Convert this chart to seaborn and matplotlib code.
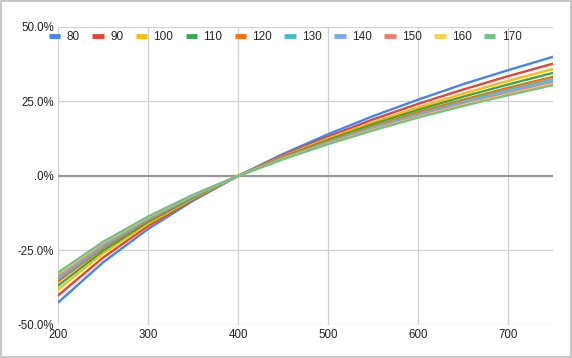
import matplotlib
matplotlib.use("Agg")
import matplotlib.pyplot as plt
from matplotlib.patches import Rectangle
from matplotlib.ticker import FuncFormatter
import numpy as np
import pandas as pd
import seaborn as sns

# x positions and one series per parameter value (percent change vs x=400)
x_vals = [200, 250, 300, 350, 400, 450, 500, 550, 600, 650, 700, 750]
series_names = ['80', '90', '100', '110', '120', '130', '140', '150', '160', '170']
s80 = [-42.5, -29.0, -17.8, -8.3, 0, 7.4, 14.0, 20.1, 25.6, 30.8, 35.5, 40.0]
s90 = [-40.1, -27.4, -16.8, -7.8, 0, 7.0, 13.2, 19.0, 24.2, 29.0, 33.5, 37.7]
s100 = [-38.1, -26.0, -16.0, -7.5, 0, 6.6, 12.6, 18.0, 23.0, 27.6, 31.9, 35.9]
s110 = [-36.8, -25.1, -15.4, -7.2, 0, 6.4, 12.1, 17.4, 22.2, 26.6, 30.7, 34.6]
s120 = [-35.4, -24.2, -14.9, -6.9, 0, 6.2, 11.7, 16.7, 21.4, 25.6, 29.6, 33.3]
s130 = [-34.5, -23.6, -14.5, -6.8, 0, 6.0, 11.4, 16.3, 20.8, 25.0, 28.9, 32.5]
s140 = [-33.9, -23.1, -14.2, -6.6, 0, 5.9, 11.2, 16.0, 20.4, 24.5, 28.3, 31.9]
s150 = [-33.3, -22.7, -14.0, -6.5, 0, 5.8, 11.0, 15.7, 20.1, 24.1, 27.8, 31.3]
s160 = [-32.8, -22.4, -13.8, -6.4, 0, 5.7, 10.8, 15.5, 19.8, 23.8, 27.4, 30.9]
s170 = [-32.4, -22.1, -13.6, -6.3, 0, 5.6, 10.7, 15.3, 19.6, 23.5, 27.1, 30.5]
all_series = [s80, s90, s100, s110, s120, s130, s140, s150, s160, s170]

colors = ['#4285F4', '#EA4335', '#FBBC04', '#34A853', '#FF6D01',
          '#46BDC6', '#7BAAF7', '#F07B72', '#FCD04F', '#71C287']

df = pd.DataFrame([
    {'x': xv, 'pct': v, 'series': name}
    for name, vals in zip(series_names, all_series)
    for xv, v in zip(x_vals, vals)
])

sns.set_style('white')
plt.rcParams['font.family'] = ['Liberation Sans', 'DejaVu Sans']

fig = plt.figure(figsize=(5.72, 3.58), dpi=100)
ax = fig.add_axes([0.1014, 0.0922, 0.8654, 0.8324])

sns.lineplot(data=df, x='x', y='pct', hue='series', hue_order=series_names,
             palette=colors, linewidth=1.7, ax=ax, zorder=3)

ax.set_xlim(200, 750)
ax.set_ylim(-50, 50)
ax.set_xticks([200, 300, 400, 500, 600, 700])
ax.set_yticks([-50, -25, 0, 25, 50])
ax.yaxis.set_major_formatter(FuncFormatter(lambda v, p: '.0%' if v == 0 else f'{v:.1f}%'))
ax.grid(True, color='#d0d0d0', linewidth=0.9)
ax.axhline(0, color='#9a9a9a', linewidth=1.6, zorder=2)
for s in ax.spines.values():
    s.set_visible(False)
ax.tick_params(length=0, labelsize=8.3, colors='#222222', pad=3)
ax.set_xlabel('')
ax.set_ylabel('')

ax.legend(loc='center left', bbox_to_anchor=(-0.018, 0.966), ncol=10,
          frameon=False, fontsize=8.5, handlelength=0.95, handletextpad=0.55,
          columnspacing=1.05, borderaxespad=0, borderpad=0)
for line in ax.get_legend().get_lines():
    line.set_linewidth(3.5)
    line.set_solid_capstyle('butt')

fig.patches.append(Rectangle((0.001, 0.002), 0.997, 0.995, transform=fig.transFigure,
                             fill=False, edgecolor='#bdbdbd', linewidth=1.2))

fig.savefig('out.png', dpi=100)
